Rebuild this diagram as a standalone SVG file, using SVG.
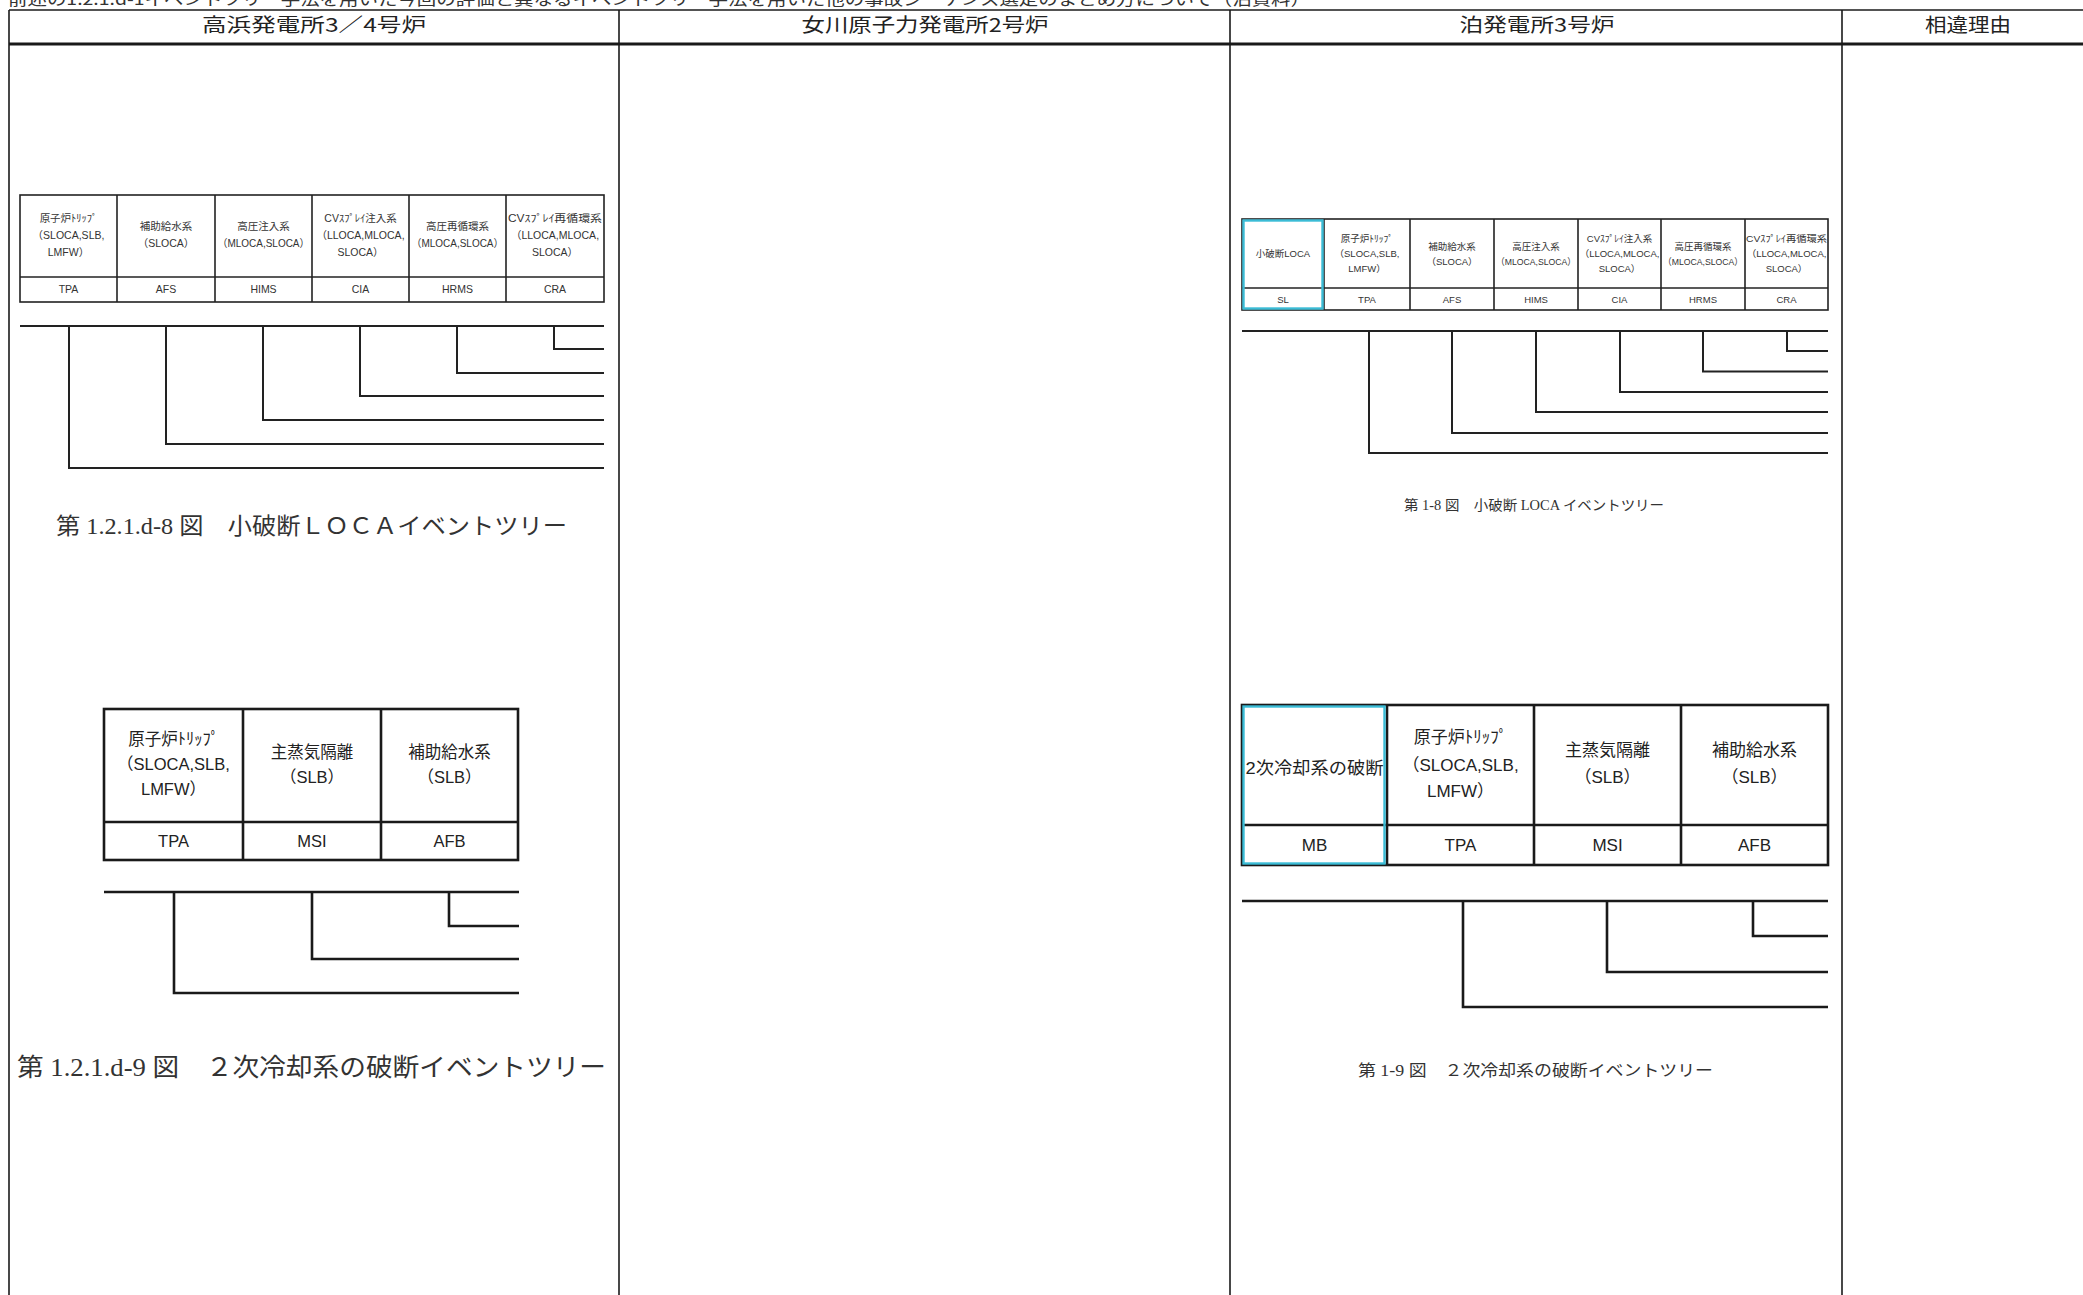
<svg xmlns="http://www.w3.org/2000/svg" width="2083" height="1295" viewBox="0 0 2083 1295">
<style>
.frame{stroke:#1a1a1a;stroke-width:1.6;fill:none}
.hdr{font-family:"Noto Sans CJK JP",sans-serif;font-size:19px;fill:#222;text-anchor:middle}
.top{font-family:"Noto Sans CJK JP",sans-serif;font-size:16px;fill:#333}
.t1{stroke:#222;stroke-width:1.6;fill:none}
.t2{stroke:#1a1a1a;stroke-width:2.6;fill:none}
.cy{stroke:#3bbcd6;stroke-width:2.4;fill:none}
.s1{font-family:"Liberation Sans","Noto Sans CJK JP",sans-serif;font-size:10.5px;fill:#333;text-anchor:middle}
.s0{font-family:"Liberation Sans","Noto Sans CJK JP",sans-serif;font-size:9.5px;fill:#333;text-anchor:middle}
.s2{font-family:"Liberation Sans","Noto Sans CJK JP",sans-serif;font-size:16.5px;fill:#222;text-anchor:middle}
.s3{font-family:"Liberation Sans","Noto Sans CJK JP",sans-serif;font-size:17px;fill:#222;text-anchor:middle}
.cap{font-family:"Liberation Serif","Noto Sans CJK JP",serif;fill:#333}
.br1{stroke:#222;stroke-width:2;fill:none}
.br2{stroke:#1a1a1a;stroke-width:2.6;fill:none}
</style>
<rect x="0" y="0" width="2083" height="1295" fill="#fff"/>
<text class="top" x="8" y="5" textLength="1302" lengthAdjust="spacingAndGlyphs">前述の1.2.1.d-1イベントツリー手法を用いた今回の評価と異なるイベントツリー手法を用いた他の事故シーケンス選定のまとめ方について（泊資料）</text>

<g id="frame">
<line class="frame" x1="9" y1="10" x2="2083" y2="10"/>
<line x1="9" y1="44" x2="2083" y2="44" stroke="#1a1a1a" stroke-width="3"/>
<line class="frame" x1="9" y1="10" x2="9" y2="1295"/>
<line class="frame" x1="619" y1="10" x2="619" y2="1295"/>
<line class="frame" x1="1230" y1="10" x2="1230" y2="1295"/>
<line class="frame" x1="1842" y1="10" x2="1842" y2="1295"/>
<text class="hdr" x="314" y="32" textLength="224" lengthAdjust="spacingAndGlyphs">高浜発電所3／4号炉</text>
<text class="hdr" x="925" y="32" textLength="247" lengthAdjust="spacingAndGlyphs">女川原子力発電所2号炉</text>
<text class="hdr" x="1537" y="32" textLength="155" lengthAdjust="spacingAndGlyphs">泊発電所3号炉</text>
<text class="hdr" x="1968" y="32" textLength="86" lengthAdjust="spacingAndGlyphs">相違理由</text>
</g>

<!-- Takahama table 1 -->
<g id="tk-table1">
<rect class="t1" x="20" y="195" width="584" height="107"/>
<line class="t1" x1="20" y1="277" x2="604" y2="277"/>
<line class="t1" x1="117" y1="195" x2="117" y2="302"/>
<line class="t1" x1="215" y1="195" x2="215" y2="302"/>
<line class="t1" x1="312" y1="195" x2="312" y2="302"/>
<line class="t1" x1="409" y1="195" x2="409" y2="302"/>
<line class="t1" x1="506" y1="195" x2="506" y2="302"/>
</g>
<g id="tk-TPA"><text class="s1" x="68.5" y="222">原子炉ﾄﾘｯﾌﾟ</text><text class="s1" x="68.5" y="239">（SLOCA,SLB,</text><text class="s1" x="68.5" y="256">LMFW）</text><text class="s1" x="68.5" y="293">TPA</text></g>
<g id="tk-AFS"><text class="s1" x="166" y="230">補助給水系</text><text class="s1" x="166" y="247">（SLOCA）</text><text class="s1" x="166" y="293">AFS</text></g>
<g id="tk-HIMS"><text class="s1" x="263.5" y="230">高圧注入系</text><text class="s1" x="263.5" y="247" textLength="92" lengthAdjust="spacingAndGlyphs">（MLOCA,SLOCA）</text><text class="s1" x="263.5" y="293">HIMS</text></g>
<g id="tk-CIA"><text class="s1" x="360.5" y="222">CVｽﾌﾟﾚｲ注入系</text><text class="s1" x="360.5" y="239">（LLOCA,MLOCA,</text><text class="s1" x="360.5" y="256">SLOCA）</text><text class="s1" x="360.5" y="293">CIA</text></g>
<g id="tk-HRMS"><text class="s1" x="457.5" y="230">高圧再循環系</text><text class="s1" x="457.5" y="247" textLength="92" lengthAdjust="spacingAndGlyphs">（MLOCA,SLOCA）</text><text class="s1" x="457.5" y="293">HRMS</text></g>
<g id="tk-CRA"><text class="s1" x="555" y="222" textLength="94" lengthAdjust="spacingAndGlyphs">CVｽﾌﾟﾚｲ再循環系</text><text class="s1" x="555" y="239">（LLOCA,MLOCA,</text><text class="s1" x="555" y="256">SLOCA）</text><text class="s1" x="555" y="293">CRA</text></g>

<!-- Takahama table 2 -->
<g id="tk-table2">
<rect class="t2" x="104" y="709" width="414" height="151"/>
<line class="t2" x1="104" y1="822" x2="518" y2="822"/>
<line class="t2" x1="243" y1="709" x2="243" y2="860"/>
<line class="t2" x1="381" y1="709" x2="381" y2="860"/>
</g>
<g id="tk2-TPA"><text class="s2" x="173.5" y="745">原子炉ﾄﾘｯﾌﾟ</text><text class="s2" x="173.5" y="770">（SLOCA,SLB,</text><text class="s2" x="173.5" y="795">LMFW）</text><text class="s2" x="173.5" y="847">TPA</text></g>
<g id="tk2-MSI"><text class="s2" x="312" y="758">主蒸気隔離</text><text class="s2" x="312" y="783">（SLB）</text><text class="s2" x="312" y="847">MSI</text></g>
<g id="tk2-AFB"><text class="s2" x="449.5" y="758">補助給水系</text><text class="s2" x="449.5" y="783">（SLB）</text><text class="s2" x="449.5" y="847">AFB</text></g>

<!-- Tomari table 1 -->
<g id="tm-table1">
<rect class="t1" x="1242" y="219" width="586" height="91"/>
<line class="t1" x1="1242" y1="288" x2="1828" y2="288"/>
<line class="t1" x1="1324" y1="219" x2="1324" y2="310"/>
<line class="t1" x1="1410" y1="219" x2="1410" y2="310"/>
<line class="t1" x1="1494" y1="219" x2="1494" y2="310"/>
<line class="t1" x1="1578" y1="219" x2="1578" y2="310"/>
<line class="t1" x1="1661" y1="219" x2="1661" y2="310"/>
<line class="t1" x1="1745" y1="219" x2="1745" y2="310"/>
<rect class="cy" x="1243.5" y="220.5" width="79" height="88"/>
</g>
<g id="tm-SL"><text class="s0" x="1283" y="257">小破断LOCA</text><text class="s0" x="1283" y="302.5">SL</text></g>
<g id="tm-TPA"><text class="s0" x="1367" y="242">原子炉ﾄﾘｯﾌﾟ</text><text class="s0" x="1367" y="257">（SLOCA,SLB,</text><text class="s0" x="1367" y="272">LMFW）</text><text class="s0" x="1367" y="302.5">TPA</text></g>
<g id="tm-AFS"><text class="s0" x="1452" y="250">補助給水系</text><text class="s0" x="1452" y="265">（SLOCA）</text><text class="s0" x="1452" y="302.5">AFS</text></g>
<g id="tm-HIMS"><text class="s0" x="1536" y="250">高圧注入系</text><text class="s0" x="1536" y="265" textLength="80" lengthAdjust="spacingAndGlyphs">（MLOCA,SLOCA）</text><text class="s0" x="1536" y="302.5">HIMS</text></g>
<g id="tm-CIA"><text class="s0" x="1619.5" y="242">CVｽﾌﾟﾚｲ注入系</text><text class="s0" x="1619.5" y="257">（LLOCA,MLOCA,</text><text class="s0" x="1619.5" y="272">SLOCA）</text><text class="s0" x="1619.5" y="302.5">CIA</text></g>
<g id="tm-HRMS"><text class="s0" x="1703" y="250">高圧再循環系</text><text class="s0" x="1703" y="265" textLength="80" lengthAdjust="spacingAndGlyphs">（MLOCA,SLOCA）</text><text class="s0" x="1703" y="302.5">HRMS</text></g>
<g id="tm-CRA"><text class="s0" x="1786.5" y="242" textLength="81" lengthAdjust="spacingAndGlyphs">CVｽﾌﾟﾚｲ再循環系</text><text class="s0" x="1786.5" y="257">（LLOCA,MLOCA,</text><text class="s0" x="1786.5" y="272">SLOCA）</text><text class="s0" x="1786.5" y="302.5">CRA</text></g>

<!-- Tomari table 2 -->
<g id="tm-table2">
<rect class="t2" x="1242" y="705" width="586" height="160"/>
<line class="t2" x1="1242" y1="825" x2="1828" y2="825"/>
<line class="t2" x1="1387" y1="705" x2="1387" y2="865"/>
<line class="t2" x1="1534" y1="705" x2="1534" y2="865"/>
<line class="t2" x1="1681" y1="705" x2="1681" y2="865"/>
<rect class="cy" x="1243.5" y="706.5" width="141" height="157"/>
</g>
<g id="tm2-MB"><text class="s3" x="1314.5" y="774" textLength="138" lengthAdjust="spacingAndGlyphs">2次冷却系の破断</text><text class="s3" x="1314.5" y="851">MB</text></g>
<g id="tm2-TPA"><text class="s3" x="1460.5" y="743">原子炉ﾄﾘｯﾌﾟ</text><text class="s3" x="1460.5" y="771">（SLOCA,SLB,</text><text class="s3" x="1460.5" y="797">LMFW）</text><text class="s3" x="1460.5" y="851">TPA</text></g>
<g id="tm2-MSI"><text class="s3" x="1607.5" y="756">主蒸気隔離</text><text class="s3" x="1607.5" y="783">（SLB）</text><text class="s3" x="1607.5" y="851">MSI</text></g>
<g id="tm2-AFB"><text class="s3" x="1754.5" y="756">補助給水系</text><text class="s3" x="1754.5" y="783">（SLB）</text><text class="s3" x="1754.5" y="851">AFB</text></g>

<!-- connectors: event tree branches -->
<g id="connectors">
<path class="br1" d="M20 326 H604 M69 326 V468 H604 M166 326 V444 H604 M263 326 V420 H604 M360 326 V396 H604 M457 326 V373 H604 M554 326 V349 H604"/>
<path class="br2" d="M104 892 H519 M174 892 V993 H519 M312 892 V959 H519 M449 892 V926 H519"/>
<path class="br1" d="M1242 331 H1828 M1369 331 V453 H1828 M1452 331 V433 H1828 M1536 331 V412 H1828 M1620 331 V392 H1828 M1703 331 V371.5 H1828 M1787 331 V351 H1828"/>
<path class="br2" d="M1242 901 H1828 M1463 901 V1007 H1828 M1607 901 V972 H1828 M1753 901 V936 H1828"/>
</g>

<g id="captions">
<text class="cap" x="56" y="534" font-size="23" textLength="511" lengthAdjust="spacingAndGlyphs">第 1.2.1.d-8 図　小破断ＬＯＣＡイベントツリー</text>
<text class="cap" x="17" y="1076" font-size="25" textLength="589" lengthAdjust="spacingAndGlyphs">第 1.2.1.d-9 図　２次冷却系の破断イベントツリー</text>
<text class="cap" x="1404" y="510" font-size="14" textLength="260" lengthAdjust="spacingAndGlyphs">第 1-8 図　小破断 LOCA イベントツリー</text>
<text class="cap" x="1358" y="1076" font-size="16" textLength="355" lengthAdjust="spacingAndGlyphs">第 1-9 図　２次冷却系の破断イベントツリー</text>
</g>
</svg>
